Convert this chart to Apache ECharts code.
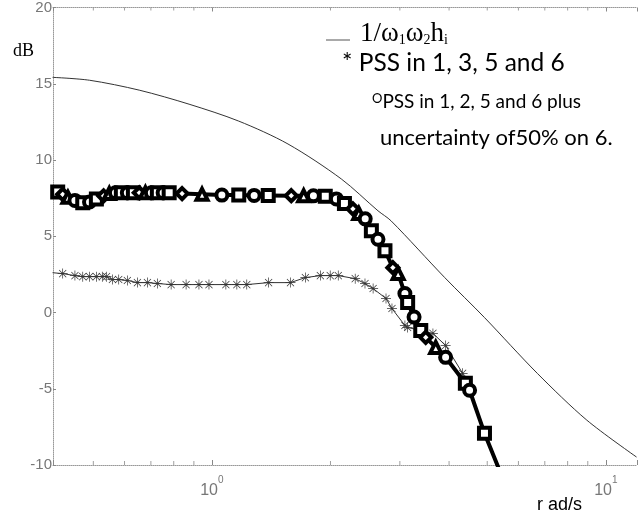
<!DOCTYPE html>
<html>
<head>
<meta charset="utf-8">
<script src="https://cdn.jsdelivr.net/npm/echarts@6/dist/echarts.min.js"></script>
<style>
html,body{margin:0;padding:0;background:#fff;}
#chart{width:640px;height:522px;}
</style>
</head>
<body>
<div id="chart"></div>
<script>
// ---- data ----
// thin reference curve 1/w1w2hi
var refFreq = [0.394, 0.489, 0.654, 0.875, 1.17, 1.56, 2.13, 2.64, 2.85, 3.90, 4.92, 6.70, 8.95, 11.97];
var refDb   = [15.42, 15.23, 14.58, 13.66, 12.55, 11.05, 8.76, 6.67, 6.01, 2.29, -0.33, -3.99, -7.06, -9.48];

// "*" PSS in 1, 3, 5 and 6
var pssAFreq = [0.394, 0.418, 0.449, 0.470, 0.489, 0.509, 0.527, 0.540, 0.559, 0.580, 0.610, 0.647, 0.686, 0.727, 0.788, 0.860, 0.927, 0.983, 1.085, 1.157, 1.226, 1.393, 1.583, 1.727, 1.885, 1.997, 2.093, 2.311, 2.447, 2.566, 2.767, 2.865, 3.09, 3.14, 3.64, 3.92, 4.33, 4.40];
var pssADb   = [2.61, 2.55, 2.42, 2.35, 2.35, 2.35, 2.35, 2.35, 2.16, 2.16, 2.10, 1.96, 1.96, 1.90, 1.83, 1.83, 1.83, 1.83, 1.83, 1.83, 1.83, 1.96, 1.96, 2.29, 2.42, 2.42, 2.42, 2.22, 1.90, 1.57, 0.92, 0.26, -0.85, -0.98, -1.37, -2.16, -3.99, -4.60];

// "O" PSS in 1, 2, 5 and 6 plus uncertainty of 50% on 6
var pssBFreq = [0.394, 0.406, 0.418, 0.431, 0.449, 0.470, 0.489, 0.509, 0.531, 0.549, 0.569, 0.589, 0.610, 0.632, 0.654, 0.678, 0.702, 0.727, 0.752, 0.779, 0.840, 0.944, 1.06, 1.17, 1.28, 1.39, 1.59, 1.71, 1.81, 1.94, 2.07, 2.17, 2.28, 2.36, 2.45, 2.54, 2.64, 2.75, 2.88, 2.97, 3.09, 3.14, 3.26, 3.39, 3.49, 3.70, 3.92, 4.40, 4.51, 4.92, 5.43];
var pssBDb   = [8.00, 7.90, 7.75, 7.55, 7.35, 7.20, 7.25, 7.45, 7.65, 7.80, 7.85, 7.85, 7.85, 7.85, 7.85, 7.85, 7.85, 7.85, 7.85, 7.85, 7.80, 7.75, 7.70, 7.70, 7.68, 7.68, 7.66, 7.65, 7.65, 7.62, 7.45, 7.15, 6.80, 6.50, 6.14, 5.36, 4.80, 4.05, 2.94, 2.55, 1.24, 0.65, -0.30, -1.18, -1.63, -2.29, -2.94, -4.64, -5.10, -7.91, -10.65];

// axis ticks
var xMajorTicks = [1, 10];
var xMajorExponents = ['0', '1'];
var xMinorTicks = [0.5, 0.6, 0.7, 0.8, 0.9, 2, 3, 4, 5, 6, 7, 8, 9];
var yMin = -10, yMax = 20, yStep = 5;
var xMin = 0.395, xMax = 12;

function zip(a, b) { return a.map(function (v, i) { return [v, b[i]]; }); }

var asterisk = 'path://M-0.7,-10L0.7,-10L0.7,10L-0.7,10Z M-10,-0.7L10,-0.7L10,0.7L-10,0.7Z ' +
  'M-7.6,-6.6L-6.6,-7.6L7.6,6.6L6.6,7.6Z M6.6,-7.6L7.6,-6.6L-6.6,7.6L-7.6,6.6Z';
var markerShapes = ['circle', 'rect', 'diamond', 'triangle', 'circle', 'rect'];

var chart = echarts.init(document.getElementById('chart'), null, {renderer: 'canvas'});

var axisGray = '#999';
var labelGray = '#777';

var option = {
  backgroundColor: '#fff',
  animation: false,
  grid: {left: 53, right: 0, top: 6, bottom: 57},
  xAxis: [{
    type: 'log', logBase: 10, min: xMin, max: xMax, position: 'bottom',
    axisLine: {show: true, onZero: false, lineStyle: {color: axisGray, type: 'dotted', width: 1}},
    axisTick: {show: true, inside: true, length: 5, lineStyle: {color: '#888'}},
    splitLine: {show: false},
    axisLabel: {
      margin: 10,
      color: labelGray,
      formatter: function (v) {
        for (var i = 0; i < xMajorTicks.length; i++) {
          if (Math.abs(v - xMajorTicks[i]) < 1e-6 * xMajorTicks[i]) {
            return '{b|10}{s|' + xMajorExponents[i] + '}';
          }
        }
        return '';
      },
      rich: {
        b: {fontSize: 16, fontFamily: 'Liberation Sans', color: labelGray, verticalAlign: 'bottom', padding: [8, 0, 0, 0]},
        s: {fontSize: 10, fontFamily: 'Liberation Sans', color: labelGray, verticalAlign: 'top'}
      }
    }
  }, {
    type: 'log', logBase: 10, min: xMin, max: xMax, position: 'top',
    axisLine: {show: true, onZero: false, lineStyle: {color: axisGray, type: 'dotted', width: 1}},
    axisTick: {show: true, inside: true, length: 4, lineStyle: {color: '#888'}},
    axisLabel: {show: false},
    splitLine: {show: false}
  }],
  yAxis: {
    type: 'value', min: yMin, max: yMax, interval: yStep,
    axisLine: {show: true, onZero: false, lineStyle: {color: axisGray, type: 'dotted', width: 1}},
    axisTick: {show: true, inside: true, length: 3, lineStyle: {color: '#888'}},
    splitLine: {show: false},
    axisLabel: {
      margin: 1, color: labelGray, fontSize: 15, fontFamily: 'Liberation Sans',
      padding: [9, 0, 0, 0]
    }
  },
  series: [
    {
      name: 'ref', type: 'line', data: zip(refFreq, refDb),
      showSymbol: false, smooth: 0.3,
      lineStyle: {color: '#333', width: 1}, z: 2
    },
    {
      name: 'pssA', type: 'line', data: zip(pssAFreq, pssADb),
      showSymbol: true, showAllSymbol: true,
      symbol: asterisk, symbolSize: 10, symbolKeepAspect: true,
      itemStyle: {color: '#333'},
      lineStyle: {color: '#333', width: 1}, z: 3
    },
    {
      name: 'pssB', type: 'line', data: zip(pssBFreq, pssBDb),
      showSymbol: true, showAllSymbol: true,
      symbol: function (value, params) { return markerShapes[params.dataIndex % markerShapes.length]; },
      symbolSize: 11,
      itemStyle: {color: '#fff', borderColor: '#000', borderWidth: 4},
      lineStyle: {color: '#000', width: 4}, z: 4
    },
    {
      name: 'minorBottom', type: 'scatter', silent: true,
      data: xMinorTicks.map(function (f) { return [f, yMin]; }),
      symbol: 'rect', symbolSize: [1, 4], symbolOffset: [0, -2],
      itemStyle: {color: '#888'}, z: 1
    },
    {
      name: 'minorTop', type: 'scatter', silent: true,
      data: xMinorTicks.map(function (f) { return [f, yMax]; }),
      symbol: 'rect', symbolSize: [1, 3], symbolOffset: [0, 1.5],
      itemStyle: {color: '#888'}, z: 1
    }
  ],
  graphic: [
    {type: 'text', left: 13, top: 42, style: {text: 'dB', fontFamily: 'Liberation Serif', fontSize: 18, fill: '#000'}},
    {type: 'text', left: 537, top: 496, style: {text: 'r ad/s', fontFamily: 'Liberation Sans', fontSize: 18, fill: '#000'}},
    {type: 'line', shape: {x1: 326, y1: 40, x2: 350, y2: 40}, style: {stroke: '#555', lineWidth: 1}},
    {type: 'text', left: 360, top: 20, style: {
      text: '1/ω{s|1}ω{s|2}h{s|i}', fontFamily: 'Liberation Serif', fontSize: 27, fill: '#000',
      rich: {s: {fontSize: 14, fontFamily: 'Liberation Serif', fill: '#000', verticalAlign: 'bottom'}}
    }},
    {type: 'text', left: 342, top: 51, style: {text: '* PSS in 1, 3, 5 and 6', fontFamily: 'Lato', fontSize: 24.5, fill: '#000'}},
    {type: 'text', left: 372, top: 92, style: {
      text: '{o|O}PSS in 1, 2, 5 and 6 plus', fontFamily: 'Lato', fontSize: 19, fill: '#000',
      rich: {o: {fontSize: 13, fontFamily: 'Lato', fill: '#000', verticalAlign: 'top'}}
    }},
    {type: 'text', left: 380, top: 127, style: {text: 'uncertainty of50% on 6.', fontFamily: 'Lato', fontSize: 22, fill: '#000'}}
  ]
};
chart.setOption(option);
</script>
</body>
</html>
